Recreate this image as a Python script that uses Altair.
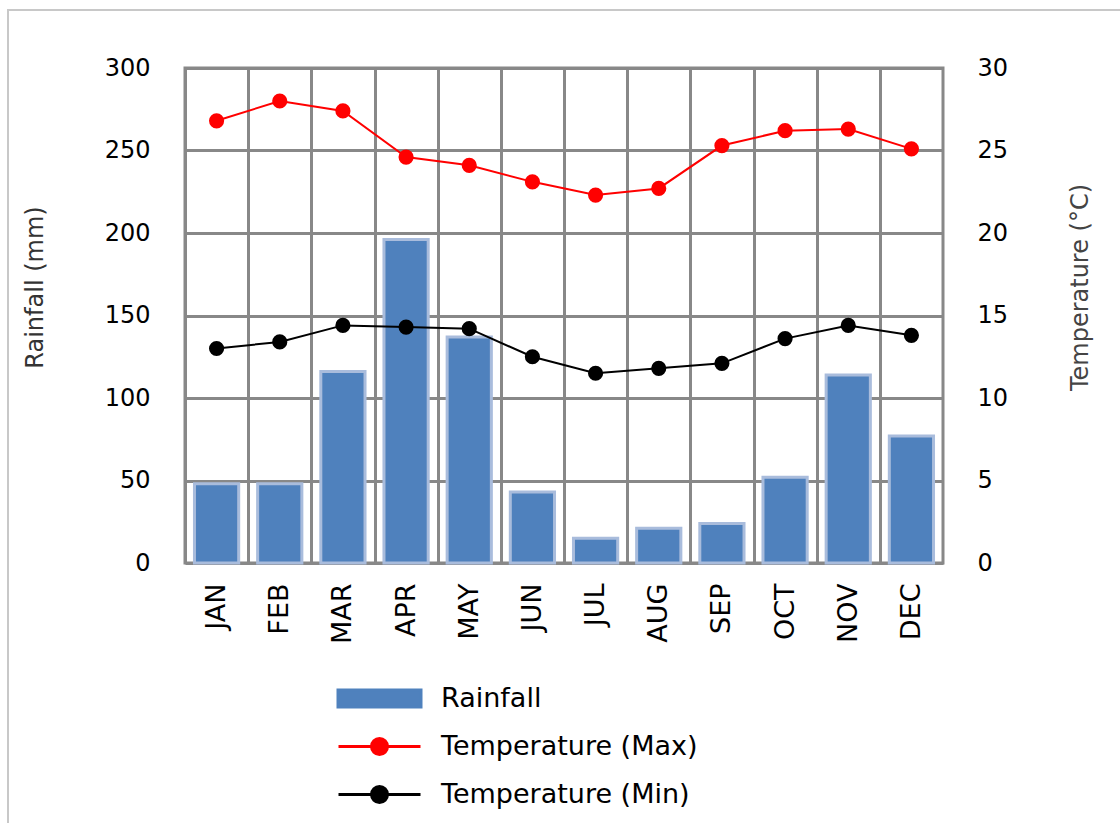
import altair as alt
import pandas as pd

# Monthly climate values
months = ["JAN", "FEB", "MAR", "APR", "MAY", "JUN", "JUL", "AUG", "SEP", "OCT", "NOV", "DEC"]
rainfall_mm = [48, 48, 116, 196, 137, 43, 15, 21, 24, 52, 114, 77]
temp_max_c = [26.8, 28.0, 27.4, 24.6, 24.1, 23.1, 22.3, 22.7, 25.3, 26.2, 26.3, 25.1]
temp_min_c = [13.0, 13.4, 14.4, 14.3, 14.2, 12.5, 11.5, 11.8, 12.1, 13.6, 14.4, 13.8]

series_names = ["Rainfall", "Temperature (Max)", "Temperature (Min)"]
series_colors = ["#4F81BD", "#FF0000", "#000000"]

# legend glyphs: a wide block for rainfall, a line through a dot for temperatures
block_glyph = "M-4.15,-0.85H4.15V0.85H-4.15Z"
line_dot_glyph = "M-4.1,0H4.1M-0.8,0A0.8,0.8 0 1,0 0.8,0A0.8,0.8 0 1,0 -0.8,0Z"
legend_glyphs = [block_glyph, line_dot_glyph, line_dot_glyph]

W, H = 758, 495
STEP = W / len(months)
FONT = "DejaVu Sans"
GRID = "#888888"

df = pd.DataFrame({"month": months, "rain": rainfall_mm, "tmax": temp_max_c, "tmin": temp_min_c})

x_enc = alt.X(
    "month:N",
    sort=months,
    scale=alt.Scale(domain=months, paddingInner=0.3, paddingOuter=0.15),
    axis=alt.Axis(
        title=None, labelAngle=-90, labelFont=FONT, labelFontSize=27, labelColor="#000000",
        labelPadding=20, ticks=False, domain=False, grid=True, gridColor=GRID, gridWidth=3,
        tickOffset=-STEP / 2, labelOffset=STEP / 2,
    ),
)

bars = alt.Chart(df).mark_bar(
    color="#4F81BD", stroke="#a9bcdc", strokeWidth=3, opacity=1
).encode(
    x=x_enc,
    y=alt.Y(
        "rain:Q",
        scale=alt.Scale(domain=[0, 300], nice=False),
        axis=alt.Axis(
            title="Rainfall (mm)", values=[0, 50, 100, 150, 200, 250, 300],
            labelFont=FONT, labelFontSize=24, labelColor="#000000", labelPadding=35,
            ticks=False, domain=False, grid=True, gridColor=GRID, gridWidth=3,
            titleFont=FONT, titleFontSize=24, titleFontWeight="normal", titleColor="#333333",
            titleAngle=270, titleX=-150, titleY=219, titleAlign="center", titleBaseline="middle",
        ),
    ),
)

temp_axis = alt.Axis(
    title="Temperature (°C)", orient="right", values=[0, 5, 10, 15, 20, 25, 30],
    labelFont=FONT, labelFontSize=24, labelColor="#000000", labelPadding=34,
    ticks=False, domain=False, grid=False,
    titleFont=FONT, titleFontSize=24, titleFontWeight="normal", titleColor="#444444",
    titleAngle=270, titleX=137, titleY=219, titleAlign="center", titleBaseline="middle",
)

temp_base = alt.Chart(df).transform_fold(["tmax", "tmin"], as_=["series", "temp"]).encode(
    x=x_enc,
    y=alt.Y("temp:Q", scale=alt.Scale(domain=[0, 30], nice=False), axis=temp_axis),
    color=alt.Color("series:N", scale=alt.Scale(domain=["tmax", "tmin"], range=["#FF0000", "#000000"]), legend=None),
)
temp_lines = temp_base.mark_line(strokeWidth=2)
temp_points = temp_base.mark_point(filled=True, size=230, opacity=1)
temps = alt.layer(temp_lines, temp_points)

leg = alt.Legend(
    title=None, orient="none", legendX=181, legendY=617, direction="vertical",
    labelFont=FONT, labelFontSize=27, labelColor="#000000", labelLimit=0, symbolSize=400,
    symbolStrokeWidth=3, labelOffset=48, rowPadding=19, padding=0,
)
legend_layer = alt.Chart(pd.DataFrame({"name": series_names})).transform_filter("false").mark_point(
    filled=True, strokeWidth=3, size=400, opacity=1
).encode(
    fill=alt.Fill("name:N", scale=alt.Scale(domain=series_names, range=series_colors), legend=leg),
    stroke=alt.Stroke("name:N", scale=alt.Scale(domain=series_names, range=series_colors), legend=leg),
    shape=alt.Shape("name:N", scale=alt.Scale(domain=series_names, range=legend_glyphs), legend=leg),
)

frame = alt.Chart(pd.DataFrame({"k": [0]})).mark_rect(
    fillOpacity=0, stroke="#c8c8c8", strokeWidth=2
).encode(x=alt.value(-177), x2=alt.value(945), y=alt.value(-58), y2=alt.value(770))

chart = alt.layer(frame, bars, temps, legend_layer).resolve_scale(y="independent").properties(
    width=W, height=H,
    autosize=alt.AutoSizeParams(type="none"),
    padding={"left": 185, "top": 68, "right": 1120 - 185 - W, "bottom": 823 - 68 - H},
).configure_view(stroke=GRID, strokeWidth=3)

chart.save("out.html", embed_options={"renderer": "svg", "actions": False})
